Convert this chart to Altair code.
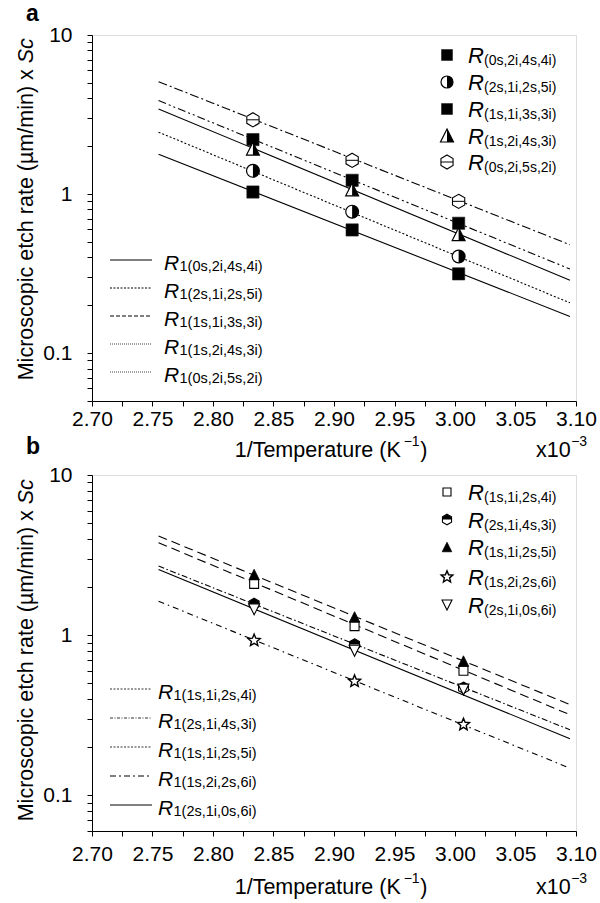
import math
import altair as alt
import pandas as pd

FONT = "Liberation Sans"

# ---------------- data ----------------
x_fit = [2.755, 3.095]

# panel a
a_x = [2.833, 2.915, 3.003]
a_y_0s2i4s4i = [1.03, 0.595, 0.315]
a_y_2s1i2s5i = [1.40, 0.775, 0.405]
a_y_1s1i3s3i = [2.20, 1.22, 0.655]
a_y_1s2i4s3i = [1.93, 1.07, 0.56]
a_y_0s2i5s2i = [2.93, 1.63, 0.90]
a_fit_0s2i4s4i = [1.78, 0.17]
a_fit_2s1i2s5i = [2.45, 0.207]
a_fit_1s1i3s3i = [3.87, 0.338]
a_fit_1s2i4s3i = [3.43, 0.287]
a_fit_0s2i5s2i = [5.09, 0.48]
a_labels = ["(0s,2i,4s,4i)", "(2s,1i,2s,5i)", "(1s,1i,3s,3i)", "(1s,2i,4s,3i)", "(0s,2i,5s,2i)"]

# panel b
b_x = [2.834, 2.917, 3.007]
b_y_1s1i2s4i = [2.09, 1.14, 0.60]
b_y_2s1i4s3i = [1.57, 0.875, 0.47]
b_y_1s1i2s5i = [2.39, 1.30, 0.69]
b_y_1s2i2s6i = [0.927, 0.516, 0.277]
b_y_2s1i0s6i = [1.45, 0.80, 0.458]
b_fit_1s1i2s4i = [3.78, 0.319]
b_fit_2s1i4s3i = [2.70, 0.257]
b_fit_1s1i2s5i = [4.16, 0.369]
b_fit_1s2i2s6i = [1.63, 0.148]
b_fit_2s1i0s6i = [2.57, 0.226]
b_labels = ["(1s,1i,2s,4i)", "(2s,1i,4s,3i)", "(1s,1i,2s,5i)", "(1s,2i,2s,6i)", "(2s,1i,0s,6i)"]

# axis ticks
x_ticks = [2.70, 2.725, 2.75, 2.775, 2.80, 2.825, 2.85, 2.875, 2.90, 2.925,
           2.95, 2.975, 3.00, 3.025, 3.05, 3.075, 3.10]
y_ticks_a = [0.05, 0.06, 0.07, 0.08, 0.09, 0.1, 0.2, 0.3, 0.4, 0.5, 0.6, 0.7, 0.8, 0.9,
             1, 2, 3, 4, 5, 6, 7, 8, 9, 10]
y_ticks_b = [0.06, 0.07, 0.08, 0.09, 0.1, 0.2, 0.3, 0.4, 0.5, 0.6, 0.7, 0.8, 0.9,
             1, 2, 3, 4, 5, 6, 7, 8, 9, 10]

# ---------------- marker shapes (unit box -1..1) ----------------
SQ = "M-1,-1L1,-1L1,1L-1,1Z"
RHALF = "M0,-1A1,1,0,0,1,0,1Z"
TRI = "M0,-1L1,1L-1,1Z"
TRI_R = "M0,-1L1,1L0,1Z"
HEX = "M0,-1L0.866,-0.5L0.866,0.5L0,1L-0.866,0.5L-0.866,-0.5Z"
HEX_LINE = "M-0.866,0L0.866,0"
HEX_TOP = "M-0.866,0L-0.866,-0.5L0,-1L0.866,-0.5L0.866,0Z"
DTRI = "M-1,-1L1,-1L0,1Z"
_pts = []
for k in range(10):
    ang = math.radians(-90 + 36 * k)
    r = 1.0 if k % 2 == 0 else 0.45
    _pts.append(f"{r * math.cos(ang):.3f},{r * math.sin(ang):.3f}")
STAR = "M" + "L".join(_pts) + "Z"

P_SQ_FILLED = [(SQ, "black", "#222", 0.6)]
P_HALF_CIRC = [("circle", "white", None, 0), (RHALF, "black", None, 0), ("circle", "none", "black", 1.2)]
P_HALF_TRI = [(TRI, "white", None, 0), (TRI_R, "black", None, 0), (TRI, "none", "black", 1.2)]
P_HEX = [(HEX, "white", "black", 1.1), (HEX_LINE, "none", "black", 1.0)]
P_SQ_OPEN = [(SQ, "white", "black", 1.1)]
P_HEX_HALF = [(HEX, "white", None, 0), (HEX_TOP, "black", None, 0), (HEX, "none", "black", 1.1)]
P_TRI_FILLED = [(TRI, "black", "black", 0.8)]
P_STAR = [(STAR, "white", "black", 1.4)]
P_DTRI = [(DTRI, "white", "black", 1.1)]

ONE = pd.DataFrame({"k": [0]})

TICK_FS = 21
TITLE_FS = 21.5
SUP_FS = 14


def text(s, x, y, size, italic=False, align="left", baseline="alphabetic", angle=0, bold=False):
    kw = dict(text=s, font=FONT, fontSize=size, align=align, baseline=baseline, color="black")
    if italic:
        kw["fontStyle"] = "italic"
    if bold:
        kw["fontWeight"] = "bold"
    if angle:
        kw["angle"] = angle
    return alt.Chart(ONE).mark_text(**kw).encode(x=alt.value(x), y=alt.value(y))


def symbol_marks(base, parts, size, enc):
    out = []
    for path, fill, stroke, sw in parts:
        kw = dict(shape=path, size=size, opacity=1)
        if fill == "none":
            kw.update(filled=False, stroke=stroke, strokeWidth=sw)
        else:
            kw.update(filled=True, fill=fill)
            if stroke:
                kw.update(stroke=stroke, strokeWidth=sw)
            else:
                kw.update(strokeWidth=0)
        out.append(base.mark_point(**kw).encode(**enc))
    return out


def make_panel(letter, height, ydom, yticks, xs_pts, series, labels, top_rows, top_sizes,
               bl_rows, bl_dash, bl_color, bl_x_R, bl_sub_x, title_center, xlab_pad, xtitle_bl,
               letter_y, anchor=False):
    xscale = alt.Scale(domain=[2.70, 3.10], nice=False, zero=False)
    yscale = alt.Scale(type="log", domain=ydom, nice=False)
    xaxis = alt.Axis(values=x_ticks, title=None, grid=False, tickSize=5, tickColor="black",
                     domainColor="black", labelColor="black", labelFont=FONT, labelFontSize=TICK_FS,
                     labelPadding=xlab_pad, labelOverlap=False, labelFlush=False,
                     labelExpr="abs(datum.value*20 - round(datum.value*20)) < 0.001 ? format(datum.value, '.2f') : ''")
    yaxis = alt.Axis(values=yticks, title=None, grid=False, tickSize=5, tickColor="black",
                     domainColor="black", labelColor="black", labelFont=FONT, labelFontSize=TICK_FS,
                     labelPadding=15, labelOverlap=False, format="~g",
                     labelExpr="datum.value == 0.1 || datum.value == 1 || datum.value == 10 ? format(datum.value, '~g') : ''")
    X = alt.X("x:Q", scale=xscale, axis=xaxis)
    Y = alt.Y("y:Q", scale=yscale, axis=yaxis)

    layers = []
    if anchor:
        layers.append(alt.Chart(ONE).mark_rect(color="white").encode(
            x=alt.value(-91), x2=alt.value(-90), y=alt.value(-34), y2=alt.value(-33)))
    # fitted lines
    for s in series:
        df = pd.DataFrame({"x": x_fit, "y": s["fit"]})
        kw = dict(color="black", strokeWidth=1.1)
        if s["dash"]:
            kw["strokeDash"] = s["dash"]
        layers.append(alt.Chart(df).mark_line(**kw).encode(x=X, y=Y))
    # points
    for s in series:
        df = pd.DataFrame({"x": xs_pts, "y": s["y"]})
        layers += symbol_marks(alt.Chart(df), s["parts"], s["psize"], dict(x=X, y=Y))
    # top-right legend
    for s, lab, ry, sz in zip(series, labels, top_rows, top_sizes):
        layers += symbol_marks(alt.Chart(ONE), s["parts"], sz, dict(x=alt.value(355), y=alt.value(ry)))
        layers.append(text("R", 376, ry + 8, 22, italic=True))
        layers.append(text(lab, 392, ry + 10, 14))
    # bottom-left legend
    for lab, ry, d, c in zip(labels, bl_rows, bl_dash, bl_color):
        kw = dict(color=c, strokeWidth=1.0)
        if d:
            kw["strokeDash"] = d
        layers.append(alt.Chart(ONE).mark_rule(**kw).encode(
            x=alt.value(18), x2=alt.value(60), y=alt.value(ry - 2)))
        layers.append(text("R", bl_x_R, ry + 7.5, 21, italic=True))
        layers.append(text("1" + lab, bl_sub_x, ry + 9, 14.5))
    # panel letter
    layers.append(text(letter, -66, letter_y, 23, bold=True))
    # y title: "Microscopic etch rate (µm/min) x " + italic "Sc"
    L = 15.892 * TITLE_FS
    sc_w = 1.167 * TITLE_FS
    sp_w = 0.278 * TITLE_FS
    sc_top = title_center - L / 2
    sc_start = sc_top + sc_w
    main_end = sc_start + sp_w
    layers.append(text("Microscopic etch rate (µm/min) x", -65, main_end, TITLE_FS,
                       align="right", baseline="middle", angle=270))
    layers.append(text("Sc", -65, sc_start, TITLE_FS, italic=True, align="left",
                       baseline="middle", angle=270))
    # x title: "1/Temperature (K" + sup "−1" + ")"
    main_w = 7.836 * TITLE_FS
    sup_w = 1.14 * SUP_FS
    total = main_w + sup_w + 0.333 * TITLE_FS + 1
    start = 239 - total / 2
    layers.append(text("1/Temperature (K", start, xtitle_bl, TITLE_FS))
    layers.append(text("\u22121", start + main_w + 0.5, xtitle_bl - 11, SUP_FS))
    layers.append(text(")", start + main_w + sup_w + 1, xtitle_bl, TITLE_FS))
    # x10^-3
    x10_w = 1.612 * TITLE_FS
    layers.append(text("x10", 444, xtitle_bl, TITLE_FS))
    layers.append(text("\u22123", 444 + x10_w + 0.5, xtitle_bl - 11, SUP_FS))

    return alt.layer(*layers).properties(width=484, height=height)


series_a = [
    dict(y=a_y_0s2i4s4i, fit=a_fit_0s2i4s4i, parts=P_SQ_FILLED, psize=150, dash=None),
    dict(y=a_y_2s1i2s5i, fit=a_fit_2s1i2s5i, parts=P_HALF_CIRC, psize=165, dash=[2, 2]),
    dict(y=a_y_1s1i3s3i, fit=a_fit_1s1i3s3i, parts=P_SQ_FILLED, psize=150, dash=[8, 3, 2, 3, 2, 3]),
    dict(y=a_y_1s2i4s3i, fit=a_fit_1s2i4s3i, parts=P_HALF_TRI, psize=165, dash=None),
    dict(y=a_y_0s2i5s2i, fit=a_fit_0s2i5s2i, parts=P_HEX, psize=200, dash=[9, 3, 2, 3]),
]
series_b = [
    dict(y=b_y_1s1i2s4i, fit=b_fit_1s1i2s4i, parts=P_SQ_OPEN, psize=80, dash=[9, 5]),
    dict(y=b_y_2s1i4s3i, fit=b_fit_2s1i4s3i, parts=P_HEX_HALF, psize=130, dash=[6, 2.5, 1.5, 2.5]),
    dict(y=b_y_1s1i2s5i, fit=b_fit_1s1i2s5i, parts=P_TRI_FILLED, psize=110, dash=[9, 5]),
    dict(y=b_y_1s2i2s6i, fit=b_fit_1s2i2s6i, parts=P_STAR, psize=160, dash=[6, 4, 1.5, 4]),
    dict(y=b_y_2s1i0s6i, fit=b_fit_2s1i0s6i, parts=P_DTRI, psize=120, dash=None),
]

panel_a = make_panel(
    "a", 366, [0.05, 10], y_ticks_a, a_x, series_a, a_labels,
    top_rows=[20, 47, 74, 100.5, 127], top_sizes=[121, 144, 121, 169, 196],
    bl_rows=[227, 255, 283, 311, 339],
    bl_dash=[None, [2, 1.5], [4, 2], [1, 1], [1, 1]],
    bl_color=["black", "black", "black", "#444", "#444"],
    bl_x_R=72, bl_sub_x=87.5, title_center=174, xlab_pad=2, xtitle_bl=422,
    letter_y=-14, anchor=True)

panel_b = make_panel(
    "b", 356, [0.06, 10], y_ticks_b, b_x, series_b, b_labels,
    top_rows=[17, 44.5, 72, 102, 130], top_sizes=[64, 110, 90, 150, 100],
    bl_rows=[216, 245, 274, 303, 332],
    bl_dash=[[2, 1.5], [3, 1.5, 1, 1.5], [2, 1.5], [6, 3, 2, 3], None],
    bl_color=["#333", "#333", "#333", "black", "black"],
    bl_x_R=66, bl_sub_x=81.5, title_center=175, xlab_pad=7, xtitle_bl=419,
    letter_y=-21)

chart = alt.vconcat(panel_a, panel_b, spacing=74, bounds="flush").properties(
    padding={"left": 0, "top": 0, "right": 2, "bottom": 2}
).configure_view(stroke="black", strokeWidth=1).configure(background="white")

chart.save("out.html", embed_options={"renderer": "svg", "actions": False})
